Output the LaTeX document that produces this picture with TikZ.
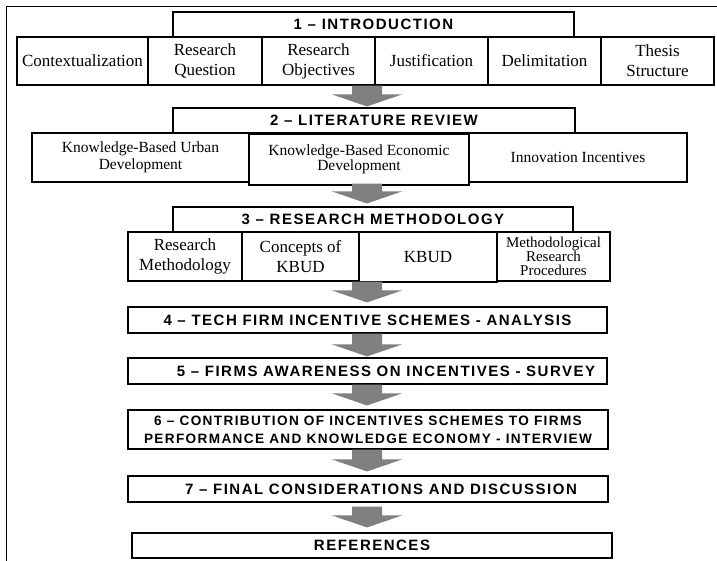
\documentclass[tikz,border=0pt]{standalone}
\usepackage{fontspec}
\setmainfont{Liberation Serif}
\newfontfamily\headfont{Liberation Sans}[LetterSpace=10]
\usetikzlibrary{calc}
\definecolor{arrowgray}{RGB}{128,128,128}

\tikzset{
  box/.style={draw, line width=1.1pt, inner sep=0pt, align=center, fill=white},
  headbox/.style={box, font=\headfont\bfseries\fontsize{15}{18}\selectfont},
  rowbig/.style={box, font=\fontsize{17}{20}\selectfont},
  rowmid/.style={box, font=\fontsize{15.5}{16.7}\selectfont},
  rowtight/.style={box, font=\fontsize{15.5}{13.8}\selectfont},
  rowsmall/.style={box, font=\fontsize{15}{14.2}\selectfont},
  frame/.style={draw, line width=0.8pt},
}

% gray block arrow between two boxes, on the common axis (ax)
% #1 source node, #2 target node, #3 offset below source, #4 gap above target
\newcommand{\flowarrow}[4]{%
  \path (ax |- #1.south) coordinate (fa-s) (ax |- #2.north) coordinate (fa-t);
  \fill[arrowgray] ($(fa-s)+(-15,#3)$) -- ($(fa-s)+(15,#3)$)
    -- ($(fa-t)+(15,-#4-12)$) -- ($(fa-t)+(35,-#4-12)$)
    -- ($(fa-t)+(0,-#4)$)
    -- ($(fa-t)+(-35,-#4-12)$) -- ($(fa-t)+(-15,-#4-12)$) -- cycle;}

\begin{document}
\begin{tikzpicture}[x=1pt, y=-1pt]
  \useasboundingbox (0,0) rectangle (717,560);
  \clip (0,0) rectangle (717,560);
  \fill[white] (0,0) rectangle (717,560);
  \draw[frame] (6,6) rectangle (722,566);

  \coordinate (ax) at (367,0);

  % chapter 1
  \node[headbox, minimum width=401, minimum height=25] (t1) at (373.5,24.5) {1 – INTRODUCTION};
  \node[rowbig, minimum width=131, minimum height=48] (r1a) at (82.5,61) {Contextualization};
  \node[rowbig, minimum width=114, minimum height=48] (r1b) at (205,61) {Research\\Question};
  \node[rowbig, minimum width=113, minimum height=48] (r1c) at (318.5,61) {Research\\Objectives};
  \node[rowbig, minimum width=113, minimum height=48] (r1d) at (431.5,61) {Justification};
  \node[rowbig, minimum width=113, minimum height=48] (r1e) at (544.5,61) {Delimitation};
  \node[rowbig, minimum width=113, minimum height=48] (r1f) at (657.5,61) {Thesis\\Structure};

  % chapter 2
  \node[headbox, minimum width=402, minimum height=25] (t2) at (374,120.5) {2 – LITERATURE REVIEW};
  \node[rowmid, minimum width=217, minimum height=49] (r2a) at (140.5,157.5) {Knowledge-Based Urban\\Development};
  \node[rowtight, minimum width=220, minimum height=51] (r2b) at (359,159.5) {Knowledge-Based Economic\\Development};
  \node[rowmid, minimum width=218, minimum height=49] (r2c) at (578,157.5) {Innovation Incentives};

  % chapter 3
  \node[headbox, minimum width=400, minimum height=25] (t3) at (373,219.5) {3 – RESEARCH METHODOLOGY};
  \node[rowbig, minimum width=114, minimum height=49] (r3a) at (185,256.5) {Research\\Methodology};
  \node[rowbig, minimum width=117, minimum height=49] (r3b) at (300.5,256.5) {Concepts of\\KBUD};
  \node[rowbig, minimum width=138, minimum height=50] (r3c) at (428,257) {KBUD};
  \node[rowsmall, minimum width=113, minimum height=49] (r3d) at (553.5,256.5) {Methodological\\Research\\Procedures};

  % chapters 4 to 7 and references
  \node[headbox, minimum width=479, minimum height=26] (c4) at (367.5,320) {4 – TECH FIRM INCENTIVE SCHEMES - ANALYSIS};
  \node[headbox, minimum width=479, minimum height=26] (c5) at (367.5,371) {\hspace*{37pt}5 – FIRMS AWARENESS ON INCENTIVES - SURVEY};
  \node[headbox, minimum width=480, minimum height=39, font=\headfont\bfseries\fontsize{13.6}{18}\selectfont] (c6) at (368,429.5)
    {6 – CONTRIBUTION OF INCENTIVES SCHEMES TO FIRMS\\PERFORMANCE AND KNOWLEDGE ECONOMY - INTERVIEW};
  \node[headbox, minimum width=480, minimum height=26] (c7) at (368,489) {\hspace*{26pt}7 – FINAL CONSIDERATIONS AND DISCUSSION};
  \node[headbox, minimum width=480, minimum height=25] (ref) at (372,545.5) {REFERENCES};

  % flow between chapters
  \flowarrow{r1c}{t2}{0}{1}
  \flowarrow{r2b}{t3}{-2}{3}
  \flowarrow{r3b}{c4}{0}{4}
  \flowarrow{c4}{c5}{0}{1}
  \flowarrow{c5}{c6}{0}{4}
  \flowarrow{c6}{c7}{0}{4}
  \flowarrow{c7}{ref}{4}{5}
\end{tikzpicture}
\end{document}
